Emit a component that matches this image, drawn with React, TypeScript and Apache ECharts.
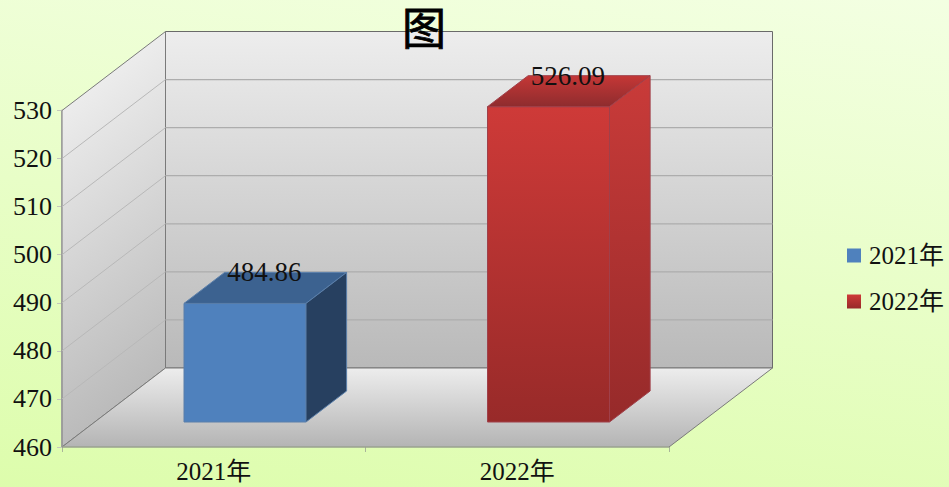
import React, { useEffect, useRef } from "react";
import * as echarts from "echarts";

const titleText = "图";
const categories = ["2021年", "2022年"];
const values2021 = [484.86];
const values2022 = [526.09];
const yMin = 460;
const yMax = 530;
const yStep = 10;
const yTicks = [460, 470, 480, 490, 500, 510, 520, 530];

const FONT = '"Liberation Serif", "Noto Sans CJK SC", serif';
const DEPTH_X = 103.5;
const DEPTH_Y = -79;
const BAR_FRONT = 25 / 79;
const BAR_DEPTH = 31 / 79;
const BAR_WIDTH = 122;
const BAR_SHIFT = -1.5;
const H_SCALE = 0.9925;

const vGrad = (a: string, b: string) =>
  new echarts.graphic.LinearGradient(0, 0, 0, 1, [
    { offset: 0, color: a },
    { offset: 1, color: b },
  ]);

function renderWalls(params: any, api: any) {
  const cs = params.coordSys;
  const x0 = cs.x;
  const x1 = cs.x + cs.width;
  const top = api.coord([0, yMax])[1];
  const bot = api.coord([0, yMin])[1];
  const dx = DEPTH_X;
  const dy = DEPTH_Y;
  // gradient on the side wall follows the depth direction
  const len = Math.hypot(dx, dy);
  const nx = -dy / len;
  const ny = dx / len;
  const dist = (bot - top) * ny;
  const sideFill = new echarts.graphic.LinearGradient(
    x0,
    top,
    x0 + nx * dist,
    top + ny * dist,
    [
      { offset: 0, color: "#ECECEC" },
      { offset: 1, color: "#BBBBBB" },
    ],
    true
  );
  const children: any[] = [
    {
      type: "polygon",
      shape: { points: [[x0 + dx, top + dy], [x1 + dx, top + dy], [x1 + dx, bot + dy], [x0 + dx, bot + dy]] },
      style: { fill: vGrad("#EDEDED", "#B9B9B9"), stroke: "#6A6A6A", lineWidth: 1 },
    },
    {
      type: "polygon",
      shape: { points: [[x0, top], [x0 + dx, top + dy], [x0 + dx, bot + dy], [x0, bot]] },
      style: { fill: sideFill, stroke: "#7A7A7A", lineWidth: 1 },
    },
    {
      type: "polygon",
      shape: { points: [[x0, bot], [x0 + dx, bot + dy], [x1 + dx, bot + dy], [x1, bot]] },
      style: { fill: vGrad("#EDEDED", "#B4B4B4"), stroke: "#7A7A7A", lineWidth: 1 },
    },
  ];
  yTicks.slice(1, -1).forEach((t) => {
    const y = api.coord([0, t])[1];
    children.push({
      type: "line",
      shape: { x1: x0, y1: y, x2: x0 + dx, y2: y + dy },
      style: { stroke: "#B8B8B8", lineWidth: 1 },
    });
    children.push({
      type: "line",
      shape: { x1: x0 + dx, y1: y + dy, x2: x1 + dx, y2: y + dy },
      style: { stroke: "#ADADAD", lineWidth: 1.2 },
    });
  });
  children.push({
    type: "line",
    shape: { x1: x0, y1: bot, x2: x1, y2: bot },
    style: { stroke: "#A9B59A", lineWidth: 1 },
  });
  return { type: "group", children };
}

function makeBar(colors: { front: any; top: any; side: any; edge: string }) {
  return (params: any, api: any) => {
    const catIndex = api.value(0);
    const value = api.value(1);
    const base = api.coord([catIndex, yMin]);
    const tip = api.coord([catIndex, value]);
    const cx = base[0] + DEPTH_X * BAR_FRONT + BAR_SHIFT;
    const yb = base[1] + DEPTH_Y * BAR_FRONT;
    const yt = yb - (base[1] - tip[1]) * H_SCALE;
    const l = cx - BAR_WIDTH / 2;
    const r = cx + BAR_WIDTH / 2;
    const dx = DEPTH_X * BAR_DEPTH;
    const dy = DEPTH_Y * BAR_DEPTH;
    const st = (fill: any) => ({ fill, stroke: colors.edge, lineWidth: 1 });
    return {
      type: "group",
      children: [
        { type: "polygon", shape: { points: [[l, yt], [r, yt], [r, yb], [l, yb]] }, style: st(colors.front) },
        { type: "polygon", shape: { points: [[l, yt], [l + dx, yt + dy], [r + dx, yt + dy], [r, yt]] }, style: st(colors.top) },
        { type: "polygon", shape: { points: [[r, yt], [r + dx, yt + dy], [r + dx, yb + dy], [r, yb]] }, style: st(colors.side) },
        {
          type: "text",
          x: cx + dx / 2 - 1,
          y: yt - 31,
          style: {
            text: value.toFixed(2),
            font: `27px ${FONT}`,
            fill: "#111111",
            align: "center",
            verticalAlign: "middle",
          },
        },
      ],
    };
  };
}

const blue = { front: "#4F81BD", top: "#3C6290", side: "#274060", edge: "#5A7FAA" };
const red = {
  front: vGrad("#CE3A38", "#982A29"),
  top: vGrad("#C53736", "#8E2C2E"),
  side: vGrad("#C93B39", "#962A2A"),
  edge: "#A0404A",
};

export default function App() {
  const ref = useRef<HTMLDivElement>(null);
  useEffect(() => {
    document.body.style.margin = "0";
    const chart = echarts.init(ref.current!, null, { renderer: "svg" });
    chart.setOption({
      animation: false,
      backgroundColor: "transparent",
      title: {
        text: titleText,
        left: 397,
        top: 3,
        textStyle: {
          fontFamily: FONT,
          fontSize: 44,
          fontWeight: "normal",
          color: "#000",
          textBorderColor: "#000",
          textBorderWidth: 0.8,
        },
      },
      legend: {
        orient: "vertical",
        left: 847,
        top: 243,
        padding: 0,
        itemWidth: 14,
        itemHeight: 14,
        itemGap: 21,
        icon: "rect",
        selectedMode: false,
        data: categories,
        textStyle: { fontFamily: FONT, fontSize: 25, color: "#111", padding: [0, 0, 0, 3] },
      },
      grid: { left: 62, right: 280, top: 110.5, bottom: 40 },
      xAxis: {
        type: "category",
        data: categories,
        axisLine: { show: false },
        axisTick: { show: true, length: 5, lineStyle: { color: "#A9B59A" } },
        axisLabel: { fontFamily: FONT, fontSize: 25, color: "#111", margin: 12 },
      },
      yAxis: {
        type: "value",
        min: yMin,
        max: yMax,
        interval: yStep,
        axisLine: { show: true, lineStyle: { color: "#C4C8BC", width: 2 } },
        axisTick: { show: true, length: 5, lineStyle: { color: "#C4C8BC" } },
        axisLabel: { fontFamily: FONT, fontSize: 26, color: "#111", margin: 10 },
        splitLine: { show: false },
      },
      series: [
        { type: "custom", name: "walls", z: 1, silent: true, renderItem: renderWalls, data: [[0, yMin]] },
        {
          type: "custom",
          name: categories[0],
          z: 2,
          renderItem: makeBar(blue),
          itemStyle: { color: "#4F81BD" },
          data: values2021.map((v) => [0, v]),
        },
        {
          type: "custom",
          name: categories[1],
          z: 2,
          renderItem: makeBar(red),
          itemStyle: { color: vGrad("#CE3A38", "#982A29") },
          data: values2022.map((v) => [1, v]),
        },
      ],
    });
    return () => chart.dispose();
  }, []);
  return (
    <div
      ref={ref}
      style={{
        width: 949,
        height: 487,
        background: "linear-gradient(188deg, #F3FFE2 0%, #DDFDAC 100%)",
      }}
    />
  );
}
